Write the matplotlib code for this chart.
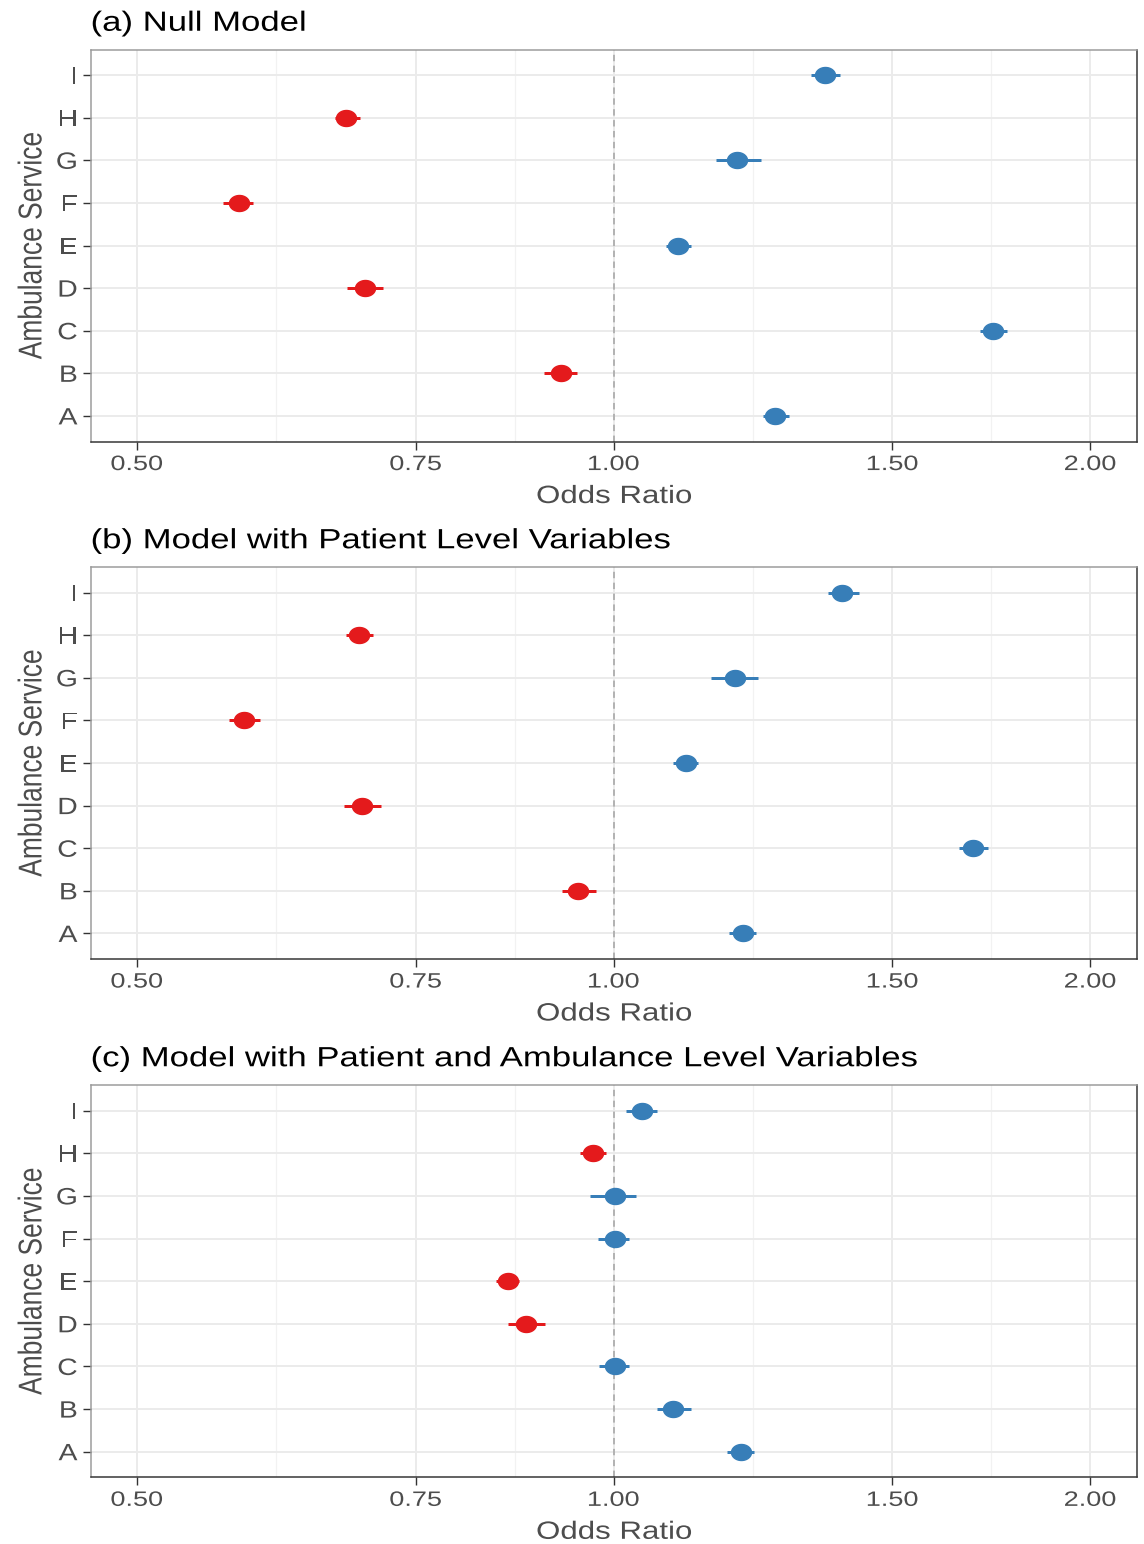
import numpy as np
import matplotlib
matplotlib.use("Agg")
import matplotlib.pyplot as plt
from matplotlib.path import Path
from matplotlib.patheffects import AbstractPathEffect
from matplotlib.transforms import Affine2D
from matplotlib.ticker import FixedLocator, NullFormatter

plt.rcParams['font.family'] = ['Liberation Sans', 'DejaVu Sans']

services = ["A", "B", "C", "D", "E", "F", "G", "H", "I"]

# (a) null model
null_or = [1.265, 0.926, 1.736, 0.697, 1.098, 0.580, 1.197, 0.678, 1.360]
null_lo = [1.243, 0.904, 1.704, 0.679, 1.079, 0.567, 1.160, 0.667, 1.333]
null_hi = [1.291, 0.948, 1.772, 0.715, 1.119, 0.592, 1.239, 0.692, 1.390]

# (b) patient level variables
patient_or = [1.207, 0.950, 1.686, 0.694, 1.111, 0.584, 1.193, 0.691, 1.395]
patient_lo = [1.183, 0.928, 1.653, 0.676, 1.090, 0.572, 1.153, 0.678, 1.366]
patient_hi = [1.230, 0.975, 1.723, 0.713, 1.131, 0.598, 1.233, 0.705, 1.428]

# (c) patient + ambulance level variables
amb_or = [1.203, 1.091, 1.002, 0.881, 0.858, 1.002, 1.002, 0.970, 1.042]
amb_lo = [1.179, 1.065, 0.979, 0.858, 0.843, 0.978, 0.967, 0.952, 1.019]
amb_hi = [1.227, 1.119, 1.022, 0.905, 0.872, 1.023, 1.033, 0.989, 1.066]

titles = ["(a) Null Model",
          "(b) Model with Patient Level Variables",
          "(c) Model with Patient and Ambulance Level Variables"]

x_breaks = [0.50, 0.75, 1.00, 1.50, 2.00]
x_labels = ["0.50", "0.75", "1.00", "1.50", "2.00"]

RED = "#E41A1C"
BLUE = "#377EB8"


class StretchX(AbstractPathEffect):
    """Draw text a bit wider, the reference image is stretched sideways."""

    def __init__(self, sx, anchor="center"):
        super().__init__()
        self.sx = sx
        self.anchor = anchor

    def draw_path(self, renderer, gc, tpath, affine, rgbFace=None):
        ext = tpath.transformed(affine).get_extents()
        if self.anchor == "left":
            x0 = ext.x0
        elif self.anchor == "right":
            x0 = ext.x1
        else:
            x0 = 0.5 * (ext.x0 + ext.x1)
        tr = affine + Affine2D().translate(-x0, 0).scale(self.sx, 1).translate(x0, 0)
        renderer.draw_path(gc, tpath, tr, rgbFace)


W, H = 1144, 1544
fig = plt.figure(figsize=(W / 100, H / 100), dpi=100, facecolor="white")

# slightly flattened circle like the reference points
t = np.linspace(0, 2 * np.pi, 60)
ellipse = Path(np.column_stack([np.cos(t), 0.8 * np.sin(t)]), closed=True)

# panel tops/bottoms in pixels
panel_px = [(49.5, 441.5), (567, 959), (1085, 1477.3)]
left_px, right_px = 91, 1137

px = 100 / 72  # pixels per point


def draw_panel(ax, est, lo, hi, title, h_px):
    y = np.arange(len(services))
    colors = [BLUE if v >= 1 else RED for v in est]

    ax.set_xscale("log")
    ax.set_xlim(0.4677, 2.141)
    ax.set_ylim(-0.6, len(services) - 0.4)

    ax.xaxis.set_major_locator(FixedLocator(x_breaks))
    ax.set_xticklabels(x_labels, path_effects=[StretchX(1.3, "center")])
    minors = [np.sqrt(a * b) for a, b in zip(x_breaks[:-1], x_breaks[1:])]
    ax.xaxis.set_minor_locator(FixedLocator(minors))
    ax.xaxis.set_minor_formatter(NullFormatter())
    ax.set_yticks(y)
    ax.set_yticklabels(services, path_effects=[StretchX(1.2, "right")])

    ax.grid(which="major", color="#EBEBEB", linewidth=2 / px, zorder=0)
    ax.grid(which="minor", axis="x", color="#F2F2F2", linewidth=1.2 / px, zorder=0)
    ax.set_axisbelow(True)

    ax.axvline(1.0, color="#A6A6A6", linestyle=(0, (4, 2.8)), linewidth=1.6 / px, zorder=1)

    ax.hlines(y, lo, hi, colors=colors, linewidth=3 / px, zorder=2)
    for yi, v, c in zip(y, est, colors):
        ax.plot(v, yi, marker=ellipse, markersize=20 / px, color=c,
                linestyle="none", zorder=3)

    ax.tick_params(axis="both", which="major", length=8 / px, width=1.4 / px,
                   color="#333333", labelcolor="#4D4D4D")
    ax.tick_params(axis="x", which="major", labelsize=15, pad=4)
    ax.tick_params(axis="y", which="major", labelsize=17, pad=4)
    ax.tick_params(axis="x", which="minor", length=0)

    for side in ["left", "top"]:
        ax.spines[side].set_color("#9A9A9A")
        ax.spines[side].set_linewidth(1.5 / px)
    for side in ["right", "bottom"]:
        ax.spines[side].set_color("#333333")
        ax.spines[side].set_linewidth(1.5 / px)

    ax.set_xlabel("Odds Ratio", fontsize=18, color="#4D4D4D", va="baseline",
                  path_effects=[StretchX(1.25, "center")])
    ax.xaxis.set_label_coords(0.5, -(503 - 441.5) / h_px)
    ax.set_ylabel("Ambulance Service", fontsize=19, color="#4D4D4D", va="baseline",
                  path_effects=[StretchX(1.25, "right")])
    ax.yaxis.set_label_coords((41.5 - left_px) / (right_px - left_px), 0.5)
    ax.set_title(title, loc="left", fontsize=20, color="black", pad=13.5,
                 path_effects=[StretchX(1.25, "left")])


all_est = [null_or, patient_or, amb_or]
all_lo = [null_lo, patient_lo, amb_lo]
all_hi = [null_hi, patient_hi, amb_hi]

for (top, bot), est, lo, hi, title in zip(panel_px, all_est, all_lo, all_hi, titles):
    ax = fig.add_axes([left_px / W, 1 - bot / H, (right_px - left_px) / W, (bot - top) / H])
    draw_panel(ax, est, lo, hi, title, bot - top)

plt.savefig("out.png", dpi=100, facecolor="white")
